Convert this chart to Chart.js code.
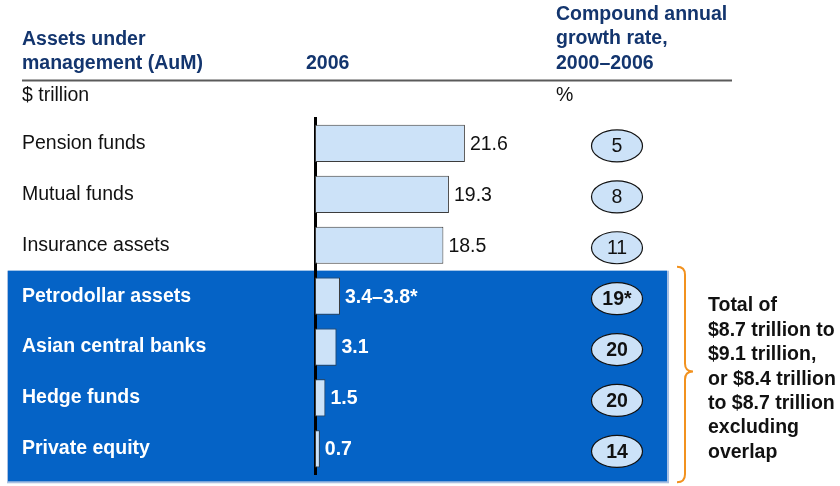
<!DOCTYPE html>
<html>
<head>
<meta charset="utf-8">
<script src="https://cdn.jsdelivr.net/npm/chart.js@4.4.1/dist/chart.umd.min.js"></script>
<style>
  html, body { margin: 0; padding: 0; background: #fff; }
  #wrap { width: 840px; height: 486px; }
</style>
</head>
<body>
<div id="wrap"><canvas id="myChart" width="840" height="486"></canvas></div>
<script>
var categories = ['Pension funds', 'Mutual funds', 'Insurance assets', 'Petrodollar assets', 'Asian central banks', 'Hedge funds', 'Private equity'];
var aum2006 = [21.6, 19.3, 18.5, 3.6, 3.1, 1.5, 0.7];
var aumLabels = ['21.6', '19.3', '18.5', '3.4–3.8*', '3.1', '1.5', '0.7'];
var cagr = ['5', '8', '11', '19*', '20', '20', '14'];
var highlighted = [false, false, false, true, true, true, true];
var braceNote = ['Total of', '$8.7 trillion to', '$9.1 trillion,', 'or $8.4 trillion', 'to $8.7 trillion', 'excluding', 'overlap'];

var FONT = '"Liberation Sans", Arial, sans-serif';
var NAVY = '#13356e';
var BLUE = '#0563c6';
var BAR = '#cce2f8';

function fnt(bold) {
    return (bold ? 'bold ' : '') + '19.5px ' + FONT;
}

var decor = {
    id: 'decor',
    beforeDraw: function (chart) {
        var ctx = chart.ctx, y = chart.scales.y, area = chart.chartArea;
        ctx.save();
        ctx.fillStyle = '#fff';
        ctx.fillRect(0, 0, chart.width, chart.height);
        // highlighted block behind the last four rows
        var first = highlighted.indexOf(true);
        var top = (y.getPixelForValue(first - 1) + y.getPixelForValue(first)) / 2;
        var bottom = area.bottom + 7;
        ctx.fillStyle = '#a9c0e2';
        ctx.fillRect(7, top, 662, bottom - top + 2);
        ctx.fillStyle = BLUE;
        ctx.fillRect(8, top, 659, bottom - top);
        ctx.restore();
    },
    afterDatasetsDraw: function (chart) {
        var ctx = chart.ctx;
        var meta = chart.getDatasetMeta(0);
        ctx.save();
        ctx.textBaseline = 'middle';
        ctx.textAlign = 'left';
        meta.data.forEach(function (bar, i) {
            ctx.font = fnt(highlighted[i]);
            ctx.fillStyle = highlighted[i] ? '#fff' : '#111';
            ctx.fillText(aumLabels[i], bar.x + 5, bar.y + 1);
        });
        ctx.restore();
    },
    afterDraw: function (chart) {
        var ctx = chart.ctx, y = chart.scales.y;
        ctx.save();
        ctx.textBaseline = 'middle';
        ctx.textAlign = 'left';
        // headers
        ctx.font = fnt(true);
        ctx.fillStyle = NAVY;
        ctx.fillText('Assets under', 22, 40);
        ctx.fillText('management (AuM)', 22, 63.5);
        ctx.fillText('2006', 306, 63.5);
        ctx.fillText('Compound annual', 556, 15);
        ctx.fillText('growth rate,', 556, 39);
        ctx.fillText('2000–2006', 556, 63.5);
        ctx.strokeStyle = '#5a5a5a';
        ctx.lineWidth = 2;
        ctx.beginPath();
        ctx.moveTo(22, 80.5);
        ctx.lineTo(732, 80.5);
        ctx.stroke();
        ctx.font = fnt(false);
        ctx.fillStyle = '#111';
        ctx.fillText('$ trillion', 22, 96);
        ctx.fillText('%', 556, 96);

        // growth-rate ellipses
        ctx.textAlign = 'center';
        cagr.forEach(function (v, i) {
            var cy = y.getPixelForValue(i) + 2.5;
            ctx.beginPath();
            ctx.ellipse(617, cy, 25.5, 16, 0, 0, Math.PI * 2);
            ctx.fillStyle = BAR;
            ctx.fill();
            ctx.lineWidth = 1.2;
            ctx.strokeStyle = '#111';
            ctx.stroke();
            ctx.fillStyle = '#111';
            ctx.font = fnt(highlighted[i]);
            ctx.fillText(v, 617, cy + 1);
        });

        // brace
        var first = highlighted.indexOf(true);
        var bt = (y.getPixelForValue(first - 1) + y.getPixelForValue(first)) / 2 - 4;
        var bb = chart.chartArea.bottom + 8;
        var bm = (bt + bb) / 2 - 3;
        ctx.strokeStyle = '#f2921f';
        ctx.lineWidth = 2;
        ctx.beginPath();
        ctx.moveTo(677, bt);
        ctx.quadraticCurveTo(685, bt, 685, bt + 8);
        ctx.lineTo(685, bm - 8);
        ctx.quadraticCurveTo(685, bm, 693, bm);
        ctx.quadraticCurveTo(685, bm, 685, bm + 8);
        ctx.lineTo(685, bb - 8);
        ctx.quadraticCurveTo(685, bb, 677, bb);
        ctx.stroke();

        ctx.textAlign = 'left';
        ctx.font = fnt(true);
        ctx.fillStyle = '#111';
        braceNote.forEach(function (line, i) {
            ctx.fillText(line, 708, 306 + i * 24.4);
        });
        ctx.restore();
    }
};

new Chart(document.getElementById('myChart'), {
    type: 'bar',
    data: {
        labels: categories,
        datasets: [{
            data: aum2006,
            backgroundColor: BAR,
            borderColor: '#3c3c3c',
            borderWidth: 1,
            borderSkipped: false,
            categoryPercentage: 1,
            barPercentage: 0.73
        }]
    },
    options: {
        indexAxis: 'y',
        responsive: false,
        animation: false,
        devicePixelRatio: 1,
        layout: { padding: { left: 22, top: 118, right: 178, bottom: 10 } },
        plugins: {
            legend: { display: false },
            title: { display: false },
            tooltip: { enabled: false }
        },
        scales: {
            x: {
                display: false,
                min: 0,
                max: 50
            },
            y: {
                z: 1,
                grid: { display: false, drawTicks: false },
                border: { display: true, color: '#000', width: 3 },
                afterFit: function (scale) { scale.width = 293; },
                ticks: {
                    crossAlign: 'far',
                    padding: 0,
                    color: function (c) { return highlighted[c.index] ? '#fff' : '#111'; },
                    font: function (c) {
                        return { family: FONT, size: 19.5, weight: highlighted[c.index] ? 'bold' : 'normal' };
                    }
                }
            }
        }
    },
    plugins: [decor]
});
</script>
</body>
</html>
